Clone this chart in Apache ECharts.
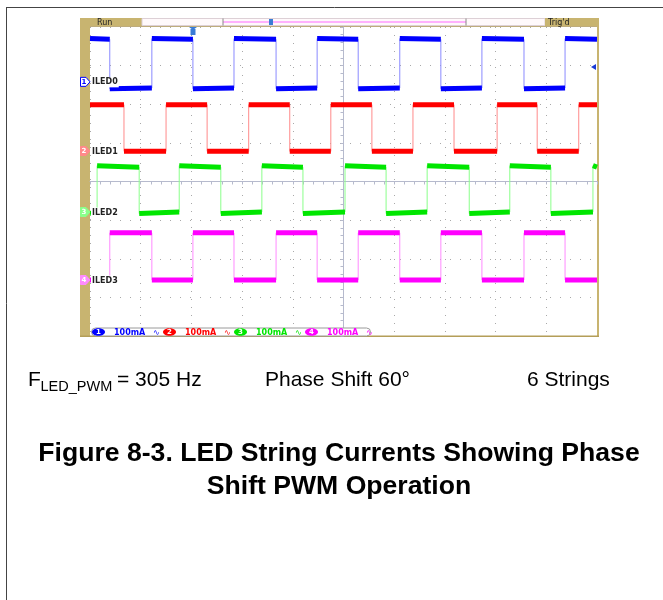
<!DOCTYPE html>
<html>
<head>
<meta charset="utf-8">
<script src="https://cdn.jsdelivr.net/npm/echarts@6/dist/echarts.min.js"></script>
<style>
html, body { margin: 0; padding: 0; background: #fff; }
#main { width: 663px; height: 600px; }
</style>
</head>
<body>
<div id="main"></div>
<script>
// scope screen: time in divisions (10 across), amplitude in divisions (8 high)
const channelNames = ['ILED0', 'ILED1', 'ILED2', 'ILED3']
const channelNums = ['1', '2', '3', '4']
const scaleLabels = ['100mA', '100mA', '100mA', '100mA']
const groundLevels = [6.58, 4.79, 3.21, 1.45]

// edge times (div)
const ch1Edges = [0.39, 1.22, 2.03, 2.84, 3.67, 4.48, 5.29, 6.11, 6.92, 7.73, 8.56, 9.37]
const ch2Edges = [0.67, 1.50, 2.31, 3.13, 3.94, 4.75, 5.56, 6.37, 7.18, 8.03, 8.82, 9.64]
const ch3Edges = [0.14, 0.97, 1.76, 2.58, 3.39, 4.20, 5.03, 5.84, 6.65, 7.48, 8.28, 9.09, 9.92]
const ch4Edges = [0.39, 1.22, 2.03, 2.84, 3.67, 4.48, 5.29, 6.11, 6.92, 7.73, 8.56, 9.37]
const startHigh = [true, true, false, false]

// [high start, high end, low start, low end] (div)
const ch1Levels = [7.70, 7.68, 6.40, 6.42]
const ch2Levels = [5.99, 5.99, 4.78, 4.78]
const ch3Levels = [4.41, 4.37, 3.17, 3.21]
const ch4Levels = [2.67, 2.67, 1.45, 1.45]

const infoTexts = ['Phase Shift 60°', '6 Strings']
const captionLines = ['Figure 8-3. LED String Currents Showing Phase', 'Shift PWM Operation']

const traceColors = ['#0000ff', '#ff0000', '#00e600', '#ff00ff']
const edgeColors = ['#8a8aff', '#ff8a8a', '#8aff8a', '#ff8aff']
const tan = '#c8b470'

function buildTrace(edges, high, lv) {
  const bounds = [0].concat(edges, [10])
  const thick = []
  const thin = []
  let isHigh = high
  for (let i = 0; i < bounds.length - 1; i++) {
    const a = isHigh ? lv[0] : lv[2]
    const b = isHigh ? lv[1] : lv[3]
    thick.push([bounds[i], a], [bounds[i + 1], b], '-')
    thin.push([bounds[i], a], [bounds[i + 1], b])
    isHigh = !isHigh
  }
  return { thick, thin }
}

const allEdges = [ch1Edges, ch2Edges, ch3Edges, ch4Edges]
const allLevels = [ch1Levels, ch2Levels, ch3Levels, ch4Levels]

let series = []
for (let c = 0; c < 4; c++) {
  const t = buildTrace(allEdges[c], startHigh[c], allLevels[c])
  series.push({
    type: 'line', data: t.thin, symbol: 'none', silent: true, z: 3,
    lineStyle: { color: edgeColors[c], width: 1 }
  })
  series.push({
    type: 'line', data: t.thick, symbol: 'none', silent: true, z: 4,
    connectNulls: false,
    lineStyle: { color: traceColors[c], width: 5, cap: 'butt' }
  })
}

let chart = echarts.init(document.getElementById('main'))
chart.setOption({
  animation: false,
  grid: { left: 90, top: 27, width: 507, height: 309 },
  xAxis: [
    {
      type: 'value', min: 0, max: 10, interval: 1,
      axisLine: { show: false }, axisTick: { show: false }, axisLabel: { show: false },
      splitLine: { show: true, lineStyle: { color: '#a9a9a9', type: [1, 7] } }
    },
    {
      type: 'value', min: 0, max: 10, interval: 0.2, position: 'bottom', offset: -154.5,
      axisLine: { show: true, lineStyle: { color: '#b6bacd' } },
      axisTick: { show: true, length: 3, lineStyle: { color: '#b6bacd' } },
      axisLabel: { show: false }, splitLine: { show: false }
    }
  ],
  yAxis: [
    {
      type: 'value', min: 0, max: 8, interval: 1,
      axisLine: { show: false }, axisTick: { show: false }, axisLabel: { show: false },
      splitLine: { show: true, lineStyle: { color: '#a9a9a9', type: [1, 9] } }
    },
    {
      type: 'value', min: 0, max: 8, interval: 0.2, position: 'left', offset: -253.5,
      axisLine: { show: true, lineStyle: { color: '#b6bacd' } },
      axisTick: { show: true, length: 3, lineStyle: { color: '#b6bacd' } },
      axisLabel: { show: false }, splitLine: { show: false }
    }
  ],
  series: series
})

// scope decorations, channel markers and text
let g = []
// page border
g.push({ type: 'line', shape: { x1: 6, y1: 7.5, x2: 663, y2: 7.5 }, style: { stroke: '#444', lineWidth: 1 } })
g.push({ type: 'line', shape: { x1: 6.5, y1: 7, x2: 6.5, y2: 600 }, style: { stroke: '#444', lineWidth: 1 } })

// frame
g.push({ type: 'rect', shape: { x: 80, y: 18, width: 10, height: 319 }, style: { fill: tan } })
g.push({ type: 'rect', shape: { x: 597, y: 18, width: 2, height: 319 }, style: { fill: tan } })
g.push({ type: 'rect', shape: { x: 80, y: 335.5, width: 519, height: 1.5 }, style: { fill: '#b49e58' } })
g.push({ type: 'rect', shape: { x: 90, y: 25.5, width: 507, height: 1.2 }, style: { fill: '#a89050' } })
// header
g.push({ type: 'rect', shape: { x: 80, y: 18, width: 62, height: 8 }, style: { fill: tan } })
g.push({ type: 'text', style: { text: 'Run', x: 97, y: 22.5, font: '8px "DejaVu Sans"', fill: '#222', verticalAlign: 'middle' } })
g.push({ type: 'rect', shape: { x: 142, y: 18.5, width: 403, height: 7 }, style: { fill: '#fff9fb', stroke: '#ddd0d6', lineWidth: 1 } })
g.push({ type: 'line', shape: { x1: 223, y1: 22, x2: 466, y2: 22 }, style: { stroke: '#ff99ff', lineWidth: 1.5 } })
g.push({ type: 'line', shape: { x1: 223, y1: 18.5, x2: 223, y2: 25.5 }, style: { stroke: '#888', lineWidth: 1 } })
g.push({ type: 'line', shape: { x1: 466, y1: 18.5, x2: 466, y2: 25.5 }, style: { stroke: '#888', lineWidth: 1 } })
g.push({ type: 'rect', shape: { x: 269, y: 19, width: 4, height: 6 }, style: { fill: '#3a7bd5' } })
g.push({ type: 'rect', shape: { x: 545, y: 18, width: 54, height: 8 }, style: { fill: tan } })
g.push({ type: 'text', style: { text: "Trig'd", x: 548, y: 22.5, font: '8px "DejaVu Sans"', fill: '#222', verticalAlign: 'middle' } })
// trigger position / level markers
g.push({ type: 'polygon', shape: { points: [[189, 27], [197, 27], [193, 30]] }, style: { fill: '#3a7bd5' } })
g.push({ type: 'rect', shape: { x: 190.5, y: 29, width: 5, height: 6 }, style: { fill: '#3a7bd5' } })
g.push({ type: 'polygon', shape: { points: [[596, 64], [596, 70], [591, 67]] }, style: { fill: '#1a3ad5' } })

// channel ground markers and names, placed through the axis scale
for (let c = 0; c < 4; c++) {
  const p = chart.convertToPixel({ gridIndex: 0 }, [0, groundLevels[c]])
  const y = p[1]
  const first = c === 0
  g.push({
    type: 'polygon',
    shape: { points: [[80.5, y - 4.5], [86, y - 4.5], [90, y], [86, y + 4.5], [80.5, y + 4.5]] },
    style: { fill: first ? '#fff' : edgeColors[c], stroke: first ? traceColors[c] : edgeColors[c], lineWidth: 1 },
    z: 20
  })
  g.push({
    type: 'text', z: 21,
    style: { text: channelNums[c], x: 84, y: y + 0.5, font: 'bold 7px "DejaVu Sans"', fill: first ? traceColors[c] : '#fff', align: 'center', verticalAlign: 'middle' }
  })
  g.push({
    type: 'text', z: 21,
    style: {
      text: channelNames[c], x: 91, y: y + 0.5, font: 'bold 8px "DejaVu Sans"', fill: '#222',
      verticalAlign: 'middle', backgroundColor: '#fff', padding: [1, 1, 1, 1]
    }
  })
}

// status bar
g.push({ type: 'rect', z: 20, shape: { x: 91.5, y: 328, width: 279, height: 8, r: 4 }, style: { fill: '#fff', stroke: '#9a9a9a', lineWidth: 1 } })
for (let c = 0; c < 4; c++) {
  const bx = 92 + c * 71
  g.push({ type: 'ellipse', z: 21, shape: { cx: bx + 6.5, cy: 332, rx: 6.5, ry: 3.8 }, style: { fill: traceColors[c] } })
  g.push({ type: 'text', z: 22, style: { text: channelNums[c], x: bx + 6.5, y: 332.5, font: 'bold 7px "DejaVu Sans"', fill: '#fff', align: 'center', verticalAlign: 'middle' } })
  g.push({ type: 'text', z: 22, style: { text: scaleLabels[c], x: bx + 22, y: 332.5, font: 'bold 8px "DejaVu Sans"', fill: traceColors[c], verticalAlign: 'middle' } })
  g.push({ type: 'text', z: 22, style: { text: '∿', x: bx + 61, y: 332.5, font: '8px "DejaVu Sans"', fill: traceColors[c], verticalAlign: 'middle' } })
}

// info line under the screenshot
const infoFont = '21px "Liberation Sans"'
g.push({ type: 'text', style: { text: 'F', x: 28, y: 391, font: infoFont, fill: '#000', verticalAlign: 'bottom' } })
g.push({ type: 'text', style: { text: 'LED_PWM', x: 40.5, y: 394, font: '14.5px "Liberation Sans"', fill: '#000', verticalAlign: 'bottom' } })
g.push({ type: 'text', style: { text: '= 305 Hz', x: 117, y: 391, font: infoFont, fill: '#000', verticalAlign: 'bottom' } })
g.push({ type: 'text', style: { text: infoTexts[0], x: 265, y: 391, font: infoFont, fill: '#000', verticalAlign: 'bottom' } })
g.push({ type: 'text', style: { text: infoTexts[1], x: 527, y: 391, font: infoFont, fill: '#000', verticalAlign: 'bottom' } })

// caption
const capFont = 'bold 26.6px "Liberation Sans"'
g.push({ type: 'text', style: { text: captionLines[0], x: 339, y: 467, font: capFont, fill: '#000', align: 'center', verticalAlign: 'bottom' } })
g.push({ type: 'text', style: { text: captionLines[1], x: 339, y: 500, font: capFont, fill: '#000', align: 'center', verticalAlign: 'bottom' } })

chart.setOption({ graphic: { elements: g } })
</script>
</body>
</html>
